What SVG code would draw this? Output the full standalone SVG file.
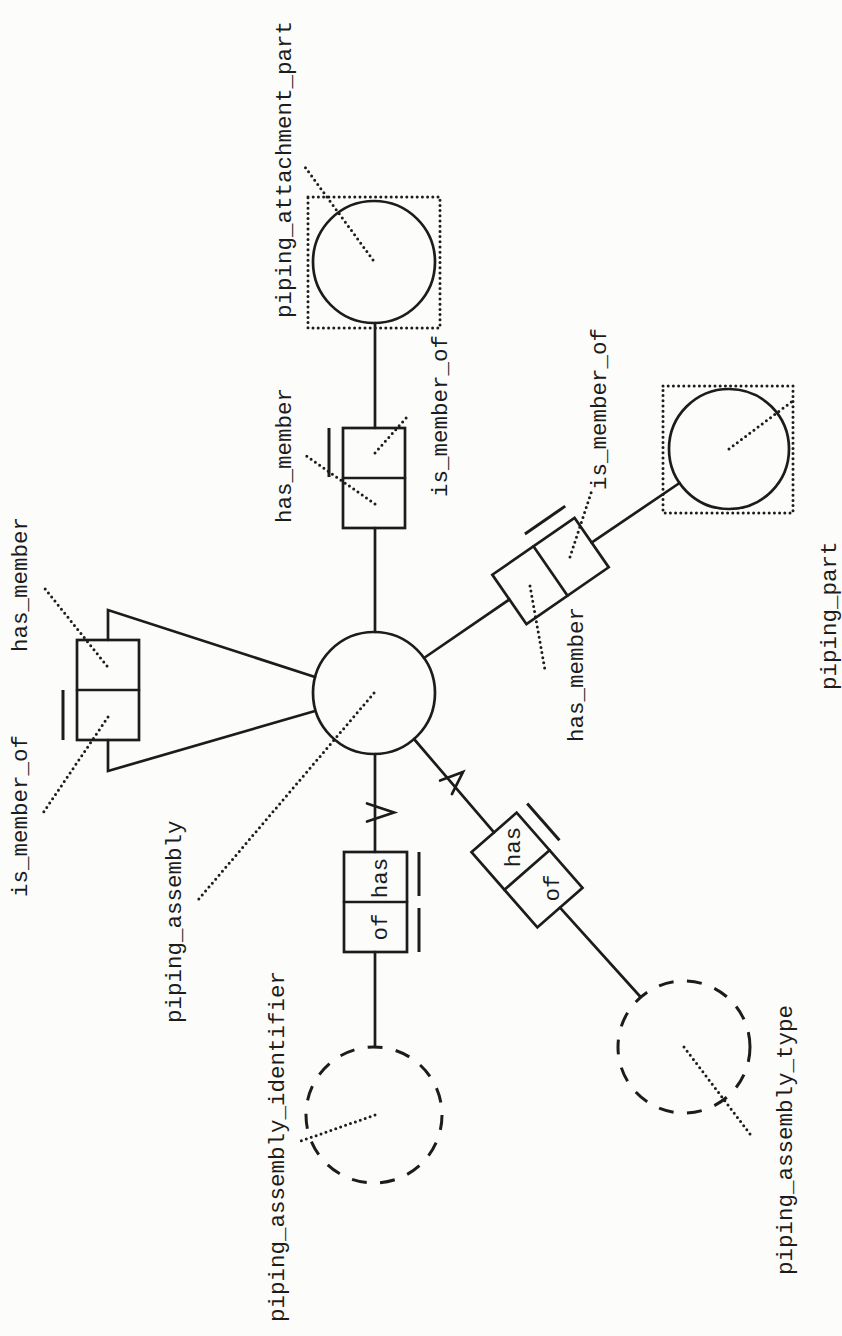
<svg xmlns="http://www.w3.org/2000/svg" width="842" height="1336" viewBox="0 0 842 1336">
<style>
.ln{stroke:#1c1c1c;stroke-width:2.7;fill:none;stroke-linecap:round;stroke-linejoin:miter}
.dot{stroke:#1c1c1c;stroke-width:3;fill:none;stroke-dasharray:0 5.2;stroke-linecap:round}
.dash{stroke:#1c1c1c;stroke-width:3;fill:none;stroke-dasharray:15 13.5}
.bar{stroke:#1c1c1c;stroke-width:3;fill:none}
text{font-family:"Liberation Mono","DejaVu Sans Mono",monospace;font-size:22.5px;fill:#1c1c1c}
.mid{text-anchor:middle}
</style>
<rect x="0" y="0" width="842" height="1336" fill="#fcfcfa"/>

<g id="connectors">
  <line class="ln" x1="375" y1="632" x2="375" y2="528"/>
  <line class="ln" x1="375" y1="428" x2="375" y2="323"/>
  <line class="ln" x1="424" y1="658" x2="509.4" y2="599.4"/>
  <line class="ln" x1="591.6" y1="542.6" x2="679.5" y2="483"/>
  <polyline class="ln" points="108,640 108,610 315,677"/>
  <polyline class="ln" points="108,740 108,771 315,711"/>
  <line class="ln" x1="375" y1="754" x2="375" y2="852"/>
  <line class="ln" x1="375" y1="952" x2="375" y2="1047"/>
  <line class="ln" x1="414" y1="739" x2="494" y2="832.4"/>
  <line class="ln" x1="560" y1="907.6" x2="640.6" y2="997"/>
  <polyline class="ln" points="367,803.5 394,812.5 367,821.5"/>
  <polyline class="ln" points="440.1,780.5 463,772 451.9,794.1"/>
</g>

<g id="piping_assembly">
  <circle class="ln" cx="374" cy="693" r="61"/>
  <line class="dot" x1="374" y1="693" x2="198" y2="900"/>
  <text transform="translate(181,1023) rotate(-90)">piping_assembly</text>
</g>

<g id="piping_attachment_part">
  <rect class="dot" x="308" y="197" width="132" height="131"/>
  <circle class="ln" cx="374" cy="262" r="61"/>
  <line class="dot" x1="373" y1="260" x2="305" y2="167"/>
  <text transform="translate(291,318) rotate(-90)">piping_attachment_part</text>
</g>

<g id="piping_part">
  <rect class="dot" x="663" y="386" width="130" height="127"/>
  <circle class="ln" cx="729" cy="449" r="60"/>
  <line class="dot" x1="729" y1="449" x2="794" y2="400"/>
  <text transform="translate(836,690) rotate(-90)">piping_part</text>
</g>

<g id="piping_assembly_identifier">
  <circle class="dash" cx="374" cy="1115" r="68"/>
  <line class="dot" x1="375" y1="1115" x2="298" y2="1142"/>
  <text transform="translate(284,1322) rotate(-90)">piping_assembly_identifier</text>
</g>

<g id="piping_assembly_type">
  <circle class="dash" cx="684" cy="1047" r="66"/>
  <line class="dot" x1="684" y1="1047" x2="753" y2="1138"/>
  <text transform="translate(792,1275) rotate(-90)">piping_assembly_type</text>
</g>

<g id="fact_attachment_member">
  <rect class="ln" x="343" y="428" width="62" height="100"/>
  <line class="ln" x1="343" y1="478" x2="405" y2="478"/>
  <line class="bar" x1="329" y1="428" x2="329" y2="477"/>
  <line class="dot" x1="375" y1="504" x2="305" y2="455"/>
  <line class="dot" x1="375" y1="453" x2="407" y2="417"/>
  <text transform="translate(291,523) rotate(-90)">has_member</text>
  <text transform="translate(447,497) rotate(-90)">is_member_of</text>
</g>

<g id="fact_part_member">
  <g transform="translate(550.5,571) rotate(-34.65)">
    <rect class="ln" x="-50" y="-30" width="100" height="60"/>
    <line class="ln" x1="0" y1="-30" x2="0" y2="30"/>
    <line class="bar" x1="0" y1="-45" x2="49" y2="-45"/>
  </g>
  <line class="dot" x1="570" y1="557" x2="592" y2="490"/>
  <line class="dot" x1="530" y1="586" x2="545" y2="670"/>
  <text transform="translate(606,490) rotate(-90)">is_member_of</text>
  <text transform="translate(583,742) rotate(-90)">has_member</text>
</g>

<g id="fact_self_member">
  <rect class="ln" x="77" y="640" width="62" height="100"/>
  <line class="ln" x1="77" y1="690" x2="139" y2="690"/>
  <line class="bar" x1="63" y1="690" x2="63" y2="740"/>
  <line class="dot" x1="107" y1="666" x2="42" y2="585"/>
  <line class="dot" x1="108" y1="717" x2="43" y2="813"/>
  <text transform="translate(27,652) rotate(-90)">has_member</text>
  <text transform="translate(27,897) rotate(-90)">is_member_of</text>
</g>

<g id="fact_identifier">
  <rect class="ln" x="344" y="852" width="63" height="100"/>
  <line class="ln" x1="344" y1="902" x2="407" y2="902"/>
  <line class="bar" x1="419" y1="852" x2="419" y2="896"/>
  <line class="bar" x1="419" y1="908" x2="419" y2="952"/>
  <text class="mid" transform="translate(387,878) rotate(-90)">has</text>
  <text class="mid" transform="translate(387,927) rotate(-90)">of</text>
</g>

<g id="fact_type">
  <g transform="translate(527,870) rotate(48.8)">
    <rect class="ln" x="-50" y="-30" width="100" height="60"/>
    <line class="ln" x1="0" y1="-30" x2="0" y2="30"/>
    <line class="bar" x1="-50" y1="-44" x2="-1" y2="-44"/>
  </g>
  <text class="mid" transform="translate(520,847) rotate(-90)">has</text>
  <text class="mid" transform="translate(559,888) rotate(-90)">of</text>
</g>
</svg>
